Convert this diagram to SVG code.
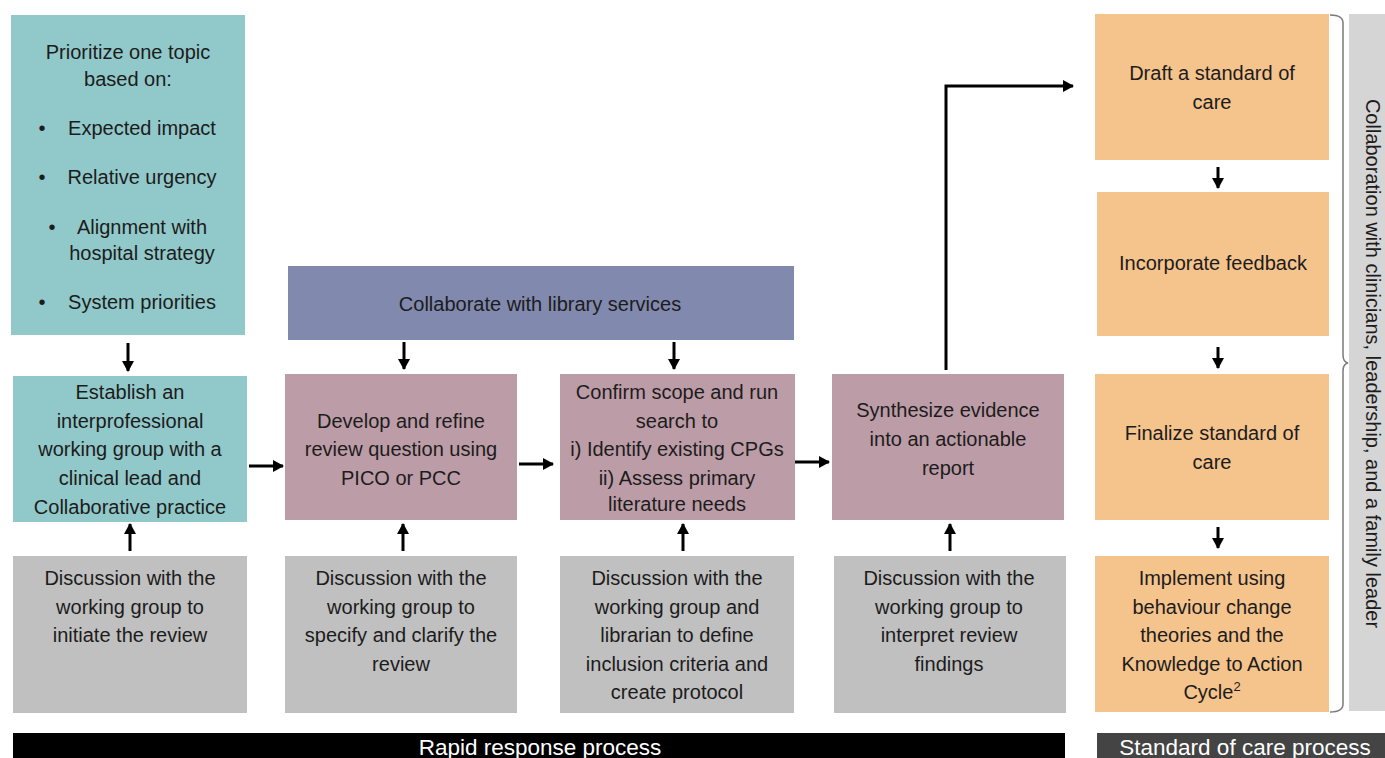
<svg xmlns="http://www.w3.org/2000/svg" width="1385" height="758" viewBox="0 0 1385 758">
<style>
text{font-family:"Liberation Sans",Arial,Helvetica,sans-serif;font-size:20px;fill:#1c1c1c}
.c{text-anchor:middle}
.teal{fill:#91c8c9}
.mauve{fill:#bc9ca7}
.lib{fill:#818aae}
.grey{fill:#c0c0c0}
.orange{fill:#f5c38c}
.conn{stroke:#000;stroke-width:3;fill:none}
.bar{font-size:22.5px;fill:#fff;text-anchor:middle}
</style>
<defs>
<marker id="ah" markerUnits="userSpaceOnUse" markerWidth="14" markerHeight="14" refX="10" refY="6" orient="auto">
<path d="M0,0 L11,6 L0,12 Z" fill="#000"/>
</marker>
</defs>

<g id="prioritize">
<rect class="teal" x="11" y="15" width="234" height="320"/>
<text class="c" x="128" y="58.5">Prioritize one topic</text>
<text class="c" x="128" y="86">based on:</text>
<text class="c" x="42" y="135">•</text><text class="c" x="142" y="135">Expected impact</text>
<text class="c" x="42" y="184">•</text><text class="c" x="142" y="184">Relative urgency</text>
<text class="c" x="52" y="233.5">•</text><text class="c" x="142" y="233.5">Alignment with</text>
<text class="c" x="142" y="260">hospital strategy</text>
<text class="c" x="42" y="308.5">•</text><text class="c" x="142" y="308.5">System priorities</text>
</g>

<g id="establish">
<rect class="teal" x="13" y="376" width="234" height="146"/>
<text class="c" x="130" y="399">Establish an</text>
<text class="c" x="130" y="428">interprofessional</text>
<text class="c" x="130" y="456">working group with a</text>
<text class="c" x="130" y="485">clinical lead and</text>
<text class="c" x="130" y="514">Collaborative practice</text>
</g>

<g id="library">
<rect class="lib" x="288" y="266" width="506" height="74"/>
<text class="c" x="540" y="311">Collaborate with library services</text>
</g>

<g id="develop">
<rect class="mauve" x="285" y="374" width="232" height="146"/>
<text class="c" x="401" y="428">Develop and refine</text>
<text class="c" x="401" y="456">review question using</text>
<text class="c" x="401" y="485">PICO or PCC</text>
</g>

<g id="confirm">
<rect class="mauve" x="560" y="374" width="235" height="146"/>
<text class="c" x="677" y="399">Confirm scope and run</text>
<text class="c" x="677" y="427.5">search to</text>
<text class="c" x="677" y="456">i) Identify existing CPGs</text>
<text class="c" x="677" y="484.5">ii) Assess primary</text>
<text class="c" x="677" y="511">literature needs</text>
</g>

<g id="synthesize">
<rect class="mauve" x="832" y="374" width="232" height="146"/>
<text class="c" x="948" y="417">Synthesize evidence</text>
<text class="c" x="948" y="446">into an actionable</text>
<text class="c" x="948" y="475">report</text>
</g>

<g id="disc1">
<rect class="grey" x="13" y="556" width="234" height="157"/>
<text class="c" x="130" y="585">Discussion with the</text>
<text class="c" x="130" y="614">working group to</text>
<text class="c" x="130" y="642">initiate the review</text>
</g>

<g id="disc2">
<rect class="grey" x="285" y="556" width="232" height="157"/>
<text class="c" x="401" y="585">Discussion with the</text>
<text class="c" x="401" y="614">working group to</text>
<text class="c" x="401" y="642">specify and clarify the</text>
<text class="c" x="401" y="671">review</text>
</g>

<g id="disc3">
<rect class="grey" x="560" y="556" width="234" height="157"/>
<text class="c" x="677" y="585">Discussion with the</text>
<text class="c" x="677" y="614">working group and</text>
<text class="c" x="677" y="642">librarian to define</text>
<text class="c" x="677" y="671">inclusion criteria and</text>
<text class="c" x="677" y="699">create protocol</text>
</g>

<g id="disc4">
<rect class="grey" x="834" y="556" width="232" height="157"/>
<text class="c" x="949" y="585">Discussion with the</text>
<text class="c" x="949" y="614">working group to</text>
<text class="c" x="949" y="642">interpret review</text>
<text class="c" x="949" y="671">findings</text>
</g>

<g id="draft">
<rect class="orange" x="1095" y="14" width="234" height="146"/>
<text class="c" x="1212" y="80">Draft a standard of</text>
<text class="c" x="1212" y="109">care</text>
</g>

<g id="incorporate">
<rect class="orange" x="1097" y="192" width="232" height="144"/>
<text class="c" x="1213" y="270">Incorporate feedback</text>
</g>

<g id="finalize">
<rect class="orange" x="1095" y="374" width="234" height="146"/>
<text class="c" x="1212" y="440">Finalize standard of</text>
<text class="c" x="1212" y="469">care</text>
</g>

<g id="implement">
<rect class="orange" x="1095" y="556" width="234" height="156"/>
<text class="c" x="1212" y="585">Implement using</text>
<text class="c" x="1212" y="614">behaviour change</text>
<text class="c" x="1212" y="642">theories and the</text>
<text class="c" x="1212" y="671">Knowledge to Action</text>
<text class="c" x="1212" y="699">Cycle<tspan font-size="13" dy="-8">2</tspan></text>
</g>

<g id="collaboration">
<rect x="1349" y="14" width="36" height="697" fill="#d5d5d5"/>
<path d="M1330,15 Q1343,15 1343,23 L1343,355 Q1343,362 1348,363 Q1343,364 1343,371 L1343,704 Q1343,712 1330,712" fill="none" stroke="#7a7a7a" stroke-width="1.5"/>
<text class="c" transform="translate(1366,363.5) rotate(90)" x="0" y="0">Collaboration with clinicians, leadership, and a family leader</text>
</g>

<g id="rapid-bar">
<rect x="13" y="733" width="1052" height="25" fill="#000"/>
<text class="bar" x="540" y="755">Rapid response process</text>
</g>

<g id="soc-bar">
<rect x="1097" y="733" width="288" height="25" fill="#444"/>
<text class="bar" x="1245" y="755">Standard of care process</text>
</g>

<g id="connectors">
<line class="conn" x1="128" y1="343" x2="128" y2="371" marker-end="url(#ah)"/>
<line class="conn" x1="404" y1="342" x2="404" y2="369" marker-end="url(#ah)"/>
<line class="conn" x1="674" y1="342" x2="674" y2="369" marker-end="url(#ah)"/>
<line class="conn" x1="249" y1="466" x2="283" y2="466" marker-end="url(#ah)"/>
<line class="conn" x1="519" y1="464" x2="553" y2="464" marker-end="url(#ah)"/>
<line class="conn" x1="795" y1="462" x2="829" y2="462" marker-end="url(#ah)"/>
<line class="conn" x1="130" y1="551" x2="130" y2="524" marker-end="url(#ah)"/>
<line class="conn" x1="403" y1="551" x2="403" y2="524" marker-end="url(#ah)"/>
<line class="conn" x1="683" y1="551" x2="683" y2="524" marker-end="url(#ah)"/>
<line class="conn" x1="950" y1="551" x2="950" y2="524" marker-end="url(#ah)"/>
<path class="conn" d="M946,370 L946,86 L1073,86" marker-end="url(#ah)"/>
<line class="conn" x1="1218" y1="167" x2="1218" y2="188" marker-end="url(#ah)"/>
<line class="conn" x1="1218" y1="347" x2="1218" y2="368" marker-end="url(#ah)"/>
<line class="conn" x1="1218" y1="527" x2="1218" y2="548" marker-end="url(#ah)"/>
</g>
</svg>
